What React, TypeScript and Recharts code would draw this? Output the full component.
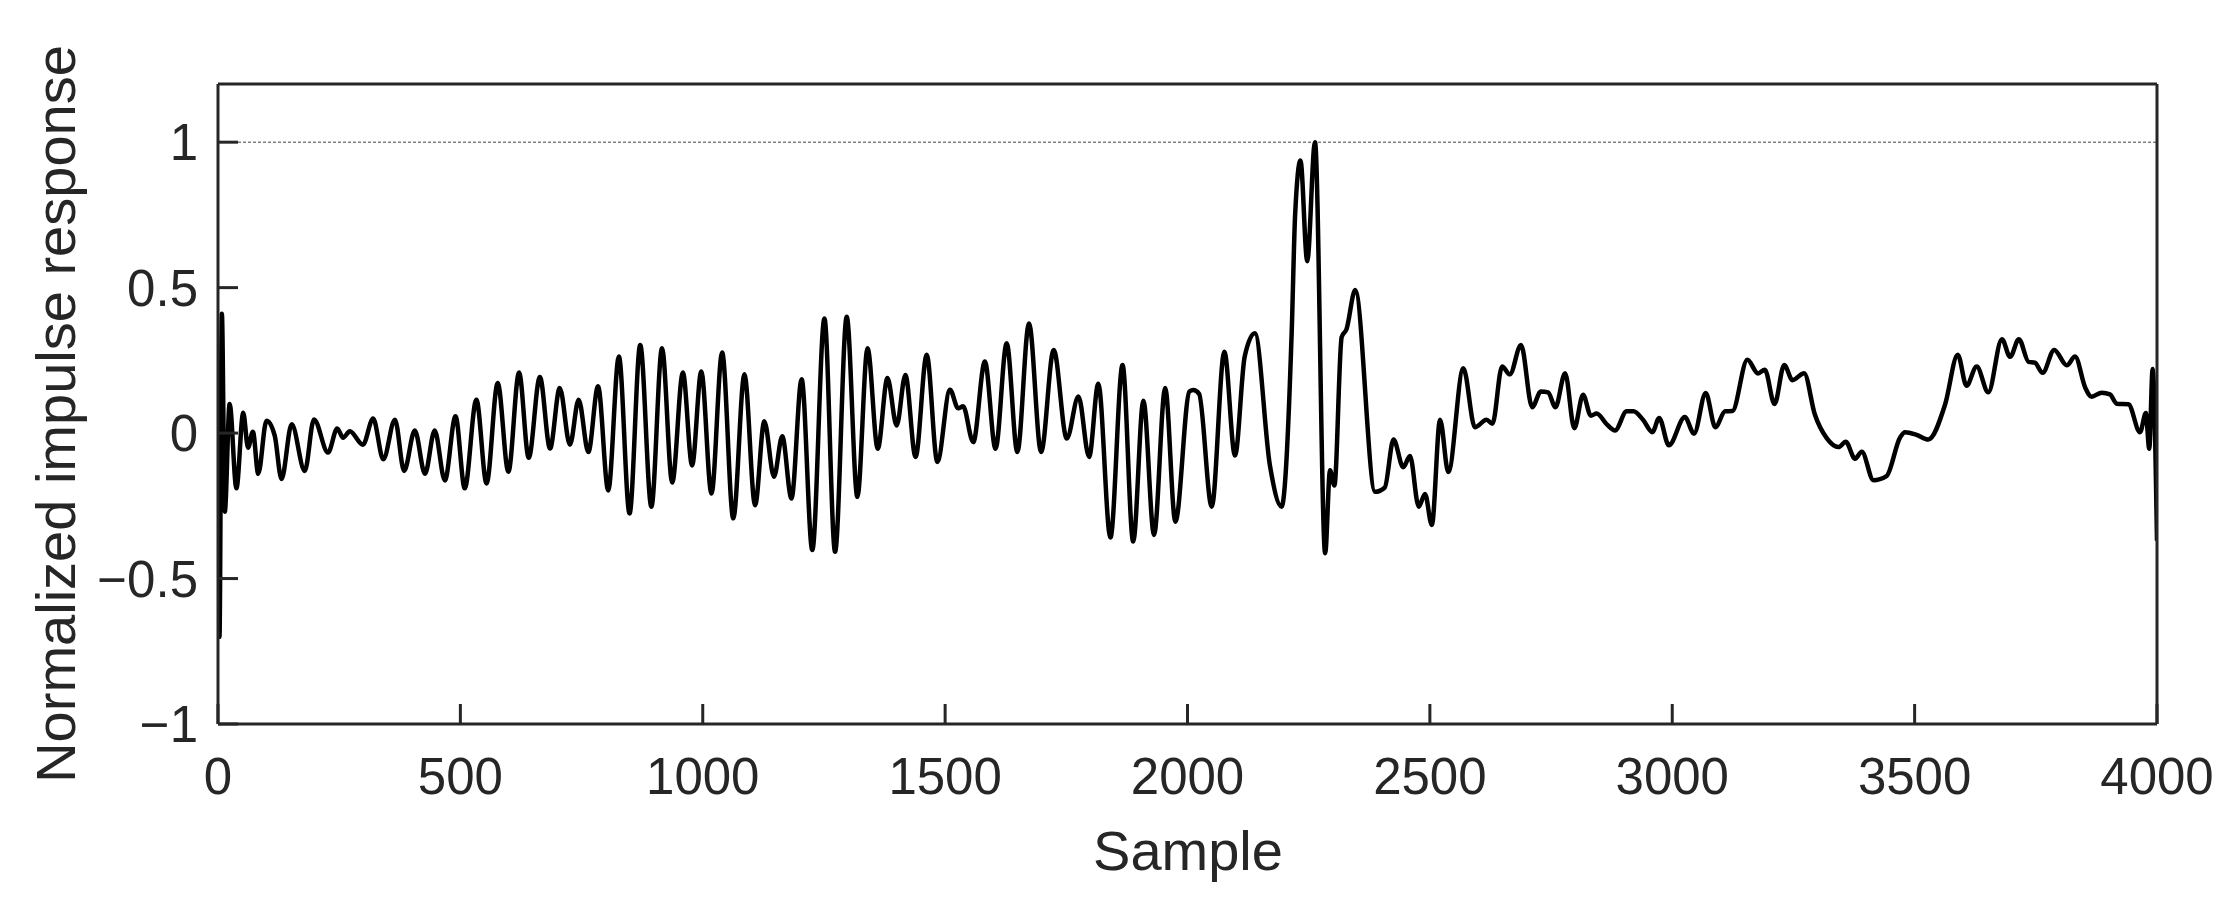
import { Label, Line, LineChart, ReferenceLine, XAxis, YAxis } from 'recharts'

// Impulse response: sample index and normalized amplitude
const samples = [
  0, 3, 8, 14, 24, 38, 52, 62, 72, 83, 100, 117, 131, 152, 179, 198, 227, 246,
  258, 272, 299, 320, 341, 365, 384, 406, 427, 447, 468, 490, 509, 533, 554,
  577, 599, 621, 641, 664, 685, 705, 726, 744, 764, 784, 805, 827, 849, 871,
  894, 916, 937, 959, 978, 997, 1018, 1040, 1063, 1086, 1108, 1127, 1147, 1164,
  1183, 1204, 1226, 1251, 1273, 1297, 1319, 1340, 1361, 1381, 1400, 1418, 1439,
  1462, 1484, 1510, 1527, 1537, 1558, 1582, 1604, 1627, 1649, 1673, 1698, 1724,
  1751, 1775, 1797, 1816, 1841, 1866, 1888, 1909, 1931, 1954, 1975, 2004, 2012,
  2024, 2050, 2076, 2098, 2118, 2139, 2170, 2194, 2215, 2222, 2233, 2247, 2263,
  2284, 2294, 2303, 2318, 2328, 2346, 2387, 2407, 2425, 2445, 2459, 2477, 2490,
  2504, 2521, 2538, 2569, 2593, 2617, 2629, 2649, 2665, 2688, 2711, 2729, 2744,
  2759, 2779, 2798, 2816, 2832, 2844, 2865, 2882, 2906, 2920, 2940, 2959, 2973,
  2993, 3026, 3045, 3069, 3089, 3109, 3124, 3155, 3177, 3191, 3211, 3231, 3248,
  3272, 3294, 3319, 3343, 3358, 3377, 3391, 3415, 3442, 3470, 3480, 3504, 3528,
  3563, 3589, 3607, 3628, 3652, 3680, 3697, 3715, 3735, 3748, 3764, 3788, 3814,
  3831, 3852, 3865, 3886, 3903, 3917, 3941, 3965, 3977, 3984, 3991, 4000,
]

const response = [
  0, -0.7, 0.41, -0.27, 0.1, -0.19, 0.07, -0.05, 0.005, -0.14, 0.042, -0.009,
  -0.158, 0.03, -0.13, 0.047, -0.067, 0.016, -0.016, 0.006, -0.04, 0.05, -0.09,
  0.046, -0.13, 0.009, -0.14, 0.009, -0.163, 0.058, -0.19, 0.115, -0.173, 0.172,
  -0.133, 0.208, -0.085, 0.193, -0.053, 0.155, -0.04, 0.115, -0.065, 0.161,
  -0.197, 0.263, -0.276, 0.303, -0.253, 0.292, -0.17, 0.208, -0.111, 0.212,
  -0.208, 0.277, -0.293, 0.202, -0.248, 0.041, -0.15, -0.011, -0.225, 0.185,
  -0.402, 0.394, -0.408, 0.4, -0.219, 0.292, -0.054, 0.189, 0.026, 0.2, -0.082,
  0.269, -0.099, 0.149, 0.085, 0.092, -0.031, 0.246, -0.054, 0.309, -0.065,
  0.377, -0.065, 0.286, -0.019, 0.126, -0.082, 0.17, -0.359, 0.234, -0.373,
  0.111, -0.35, 0.155, -0.305, 0.143, 0.148, 0.135, -0.253, 0.28, -0.077, 0.263,
  0.343, -0.111, -0.253, 0.35, 0.75, 0.937, 0.591, 1.0, -0.413, -0.128, -0.18,
  0.33, 0.357, 0.492, -0.202, -0.187, -0.022, -0.117, -0.079, -0.253, -0.209,
  -0.316, 0.046, -0.134, 0.223, 0.02, 0.046, 0.032, 0.229, 0.202, 0.303, 0.089,
  0.143, 0.14, 0.089, 0.206, 0.017, 0.132, 0.06, 0.067, 0.03, 0.009, 0.075,
  0.075, 0.045, 0.003, 0.052, -0.042, 0.055, -0.002, 0.138, 0.02, 0.075, 0.076,
  0.252, 0.205, 0.218, 0.1, 0.234, 0.182, 0.206, 0.065, -0.018, -0.048, -0.03,
  -0.088, -0.064, -0.162, -0.148, -0.015, 0.003, -0.006, -0.022, 0.099, 0.269,
  0.163, 0.229, 0.14, 0.323, 0.262, 0.323, 0.245, 0.242, 0.207, 0.286, 0.233,
  0.263, 0.156, 0.125, 0.139, 0.133, 0.101, 0.099, 0.003, 0.069, -0.054, 0.22,
  -0.37,
]

const sampleTicks = [0, 500, 1000, 1500, 2000, 2500, 3000, 3500, 4000]
const responseTicks = [-1, -0.5, 0, 0.5, 1]

const data = samples.map((s, i) => ({ sample: s, response: response[i] }))

const ink = '#262626'
const font = "'Liberation Sans', Arial, sans-serif"
const tickStyle = { fill: ink, fontSize: 51, fontFamily: font }

const fmt = (v: number) => (v < 0 ? '\u2212' + Math.abs(v) : String(v))

export default function App() {
  return (
    <div style={{ position: 'absolute', left: 0, top: 0, background: '#fff' }}>
      <LineChart
        width={2222}
        height={901}
        data={data}
        margin={{ top: 83, right: 64, bottom: 176, left: 217 }}
      >
        <ReferenceLine
          y={1}
          stroke='#404040'
          strokeWidth={1}
          strokeDasharray='3 2'
        />
        <XAxis
          dataKey='sample'
          type='number'
          domain={[0, 4000]}
          ticks={sampleTicks}
          interval={0}
          height={1}
          tickSize={-20}
          tickMargin={54}
          tick={tickStyle}
          stroke={ink}
          strokeWidth={3}
          allowDataOverflow
        >
          <Label
            content={() => (
              <text
                x={1188}
                y={870}
                textAnchor='middle'
                fill={ink}
                fontSize={56}
                fontFamily={font}
              >
                Sample
              </text>
            )}
          />
        </XAxis>
        <XAxis
          xAxisId='top'
          orientation='top'
          type='number'
          domain={[0, 4000]}
          ticks={sampleTicks}
          interval={0}
          height={1}
          tickSize={-20}
          tick={false}
          stroke={ink}
          strokeWidth={3}
          allowDataOverflow
        />
        <YAxis
          type='number'
          domain={[-1, 1.2]}
          ticks={responseTicks}
          interval={0}
          width={1}
          tickSize={-20}
          tickMargin={40}
          tick={tickStyle}
          tickFormatter={fmt}
          stroke={ink}
          strokeWidth={3}
          allowDataOverflow
        >
          <Label
            content={() => (
              <text
                x={75}
                y={414}
                transform='rotate(-90, 75, 414)'
                textAnchor='middle'
                fill={ink}
                fontSize={56}
                fontFamily={font}
              >
                Normalized impulse response
              </text>
            )}
          />
        </YAxis>
        <YAxis
          yAxisId='right'
          orientation='right'
          type='number'
          domain={[-1, 1.2]}
          ticks={responseTicks}
          interval={0}
          width={1}
          tickSize={-20}
          tick={false}
          stroke={ink}
          strokeWidth={3}
          allowDataOverflow
        />
        <Line
          type='monotone'
          dataKey='response'
          stroke='#000'
          strokeWidth={4.5}
          dot={false}
          isAnimationActive={false}
        />
      </LineChart>
    </div>
  )
}
